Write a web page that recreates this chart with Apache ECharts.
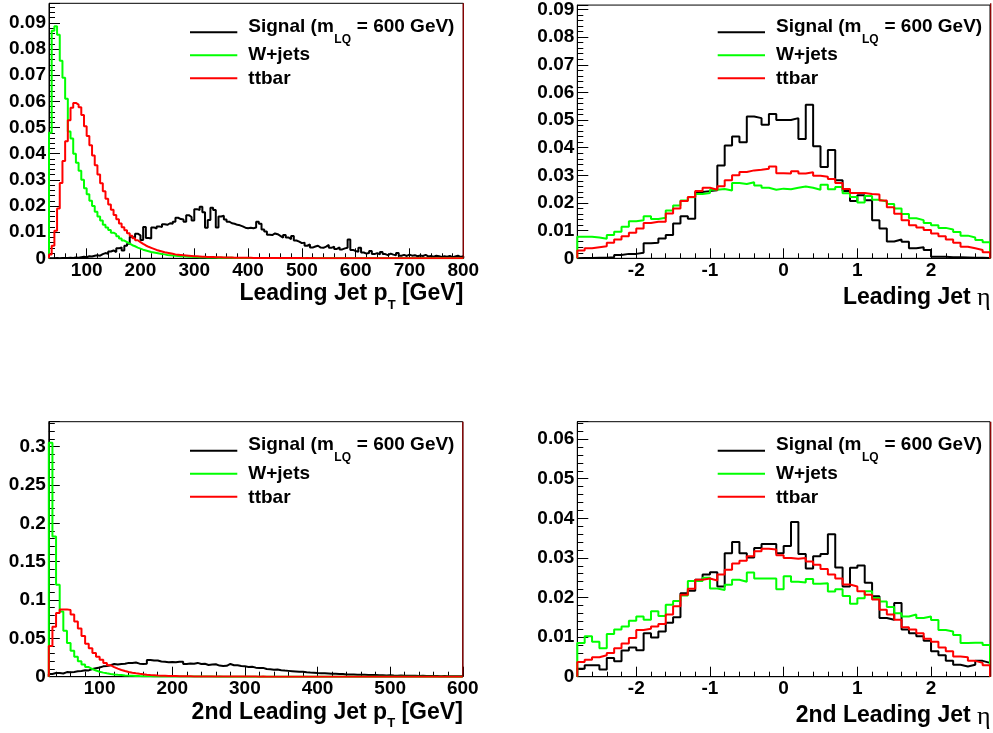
<!DOCTYPE html>
<html><head><meta charset="utf-8">
<script src="https://cdn.jsdelivr.net/npm/echarts@6/dist/echarts.min.js"></script>
<style>html,body{margin:0;padding:0;background:#fff}#c{width:993px;height:733px}</style>
</head><body><div id="c"></div>
<script>
// ---------------- DATA ----------------
// Leading jet pT : bins of 5 GeV from 30 to 800 GeV
const leadPtLow = 30, leadPtBin = 5;
const leadPtSignal = [
 0.0000,0.0000,0.0001,0.0000,0.0001,0.0001,0.0001,0.0002,0.0001,0.0003,
 0.0002,0.0004,0.0006,0.0004,0.0008,0.0007,0.0010,0.0012,0.0010,0.0016,
 0.0020,0.0017,0.0026,0.0030,0.0024,0.0038,0.0042,0.0030,0.0048,0.0056,
 0.0082,0.0078,0.0094,0.0088,0.0070,0.0120,0.0078,0.0076,0.0118,0.0114,
 0.0122,0.0120,0.0130,0.0128,0.0134,0.0132,0.0140,0.0155,0.0150,0.0148,
 0.0140,0.0165,0.0158,0.0145,0.0188,0.0185,0.0197,0.0176,0.0117,0.0146,
 0.0193,0.0185,0.0118,0.0160,0.0163,0.0148,0.0140,0.0134,0.0132,0.0128,
 0.0126,0.0122,0.0117,0.0115,0.0117,0.0115,0.0118,0.0140,0.0132,0.0110,
 0.0102,0.0090,0.0089,0.0095,0.0092,0.0086,0.0079,0.0089,0.0080,0.0073,
 0.0085,0.0068,0.0064,0.0058,0.0060,0.0048,0.0053,0.0041,0.0045,0.0048,
 0.0041,0.0040,0.0045,0.0051,0.0040,0.0045,0.0036,0.0042,0.0034,0.0038,
 0.0040,0.0072,0.0032,0.0028,0.0025,0.0040,0.0022,0.0018,0.0020,0.0028,
 0.0016,0.0020,0.0015,0.0024,0.0016,0.0012,0.0018,0.0014,0.0012,0.0020,
 0.0010,0.0013,0.0009,0.0014,0.0010,0.0012,0.0008,0.0011,0.0009,0.0013,
 0.0007,0.0009,0.0006,0.0010,0.0008,0.0005,0.0008,0.0006,0.0009,0.0004,
 0.0007,0.0010,0.0005,0.0008];
const leadPtWjets = [
 0.0480,0.0870,0.0887,0.0855,0.0755,0.0690,0.0610,0.0485,0.0458,0.0400,
 0.0365,0.0335,0.0300,0.0268,0.0245,0.0220,0.0200,0.0178,0.0160,0.0145,
 0.0128,0.0118,0.0108,0.0098,0.0092,0.0084,0.0076,0.0068,0.0062,0.0056,
 0.0050,0.0046,0.0041,0.0037,0.0033,0.0030,0.0027,0.0024,0.0022,0.0020,
 0.0018,0.0016,0.0015,0.0013,0.0012,0.0011,0.0010,0.0009,0.0008,0.0008,
 0.0007,0.0006,0.0006,0.0005,0.0005,0.0004,0.0004,0.0004,0.0003,0.0003,
 0.0003,0.0003,0.0002,0.0002,0.0002,0.0002,0.0002,0.0002,0.0001,0.0001,
 0.0001,0.0001,0.0001,0.0001,0.0001,0.0001,0.0001,0.0001,0.0001,0.0001,
 0.0001,0.0001,0.0001,0.0001,0.0001,0.0000,0.0001,0.0000,0.0001,0.0000,
 0.0000,0.0000,0.0000,0.0000,0.0000,0.0000,0.0000,0.0000,0.0000,0.0000,
 0.0000,0.0000,0.0000,0.0000,0.0000,0.0000,0.0000,0.0000,0.0000,0.0000,
 0.0000,0.0000,0.0000,0.0000,0.0000,0.0000,0.0000,0.0000,0.0000,0.0000,
 0.0000,0.0000,0.0000,0.0000,0.0000,0.0000,0.0000,0.0000,0.0000,0.0000,
 0.0000,0.0000,0.0000,0.0000,0.0000,0.0000,0.0000,0.0000,0.0000,0.0000,
 0.0000,0.0000,0.0000,0.0000,0.0000,0.0000,0.0000,0.0000,0.0000,0.0000,
 0.0000,0.0000,0.0000,0.0000];
const leadPtTtbar = [
 0.0015,0.0048,0.0105,0.0190,0.0288,0.0372,0.0448,0.0528,0.0576,0.0594,
 0.0588,0.0578,0.0548,0.0505,0.0468,0.0432,0.0393,0.0356,0.0320,0.0287,
 0.0256,0.0228,0.0206,0.0186,0.0166,0.0149,0.0133,0.0119,0.0107,0.0096,
 0.0086,0.0077,0.0069,0.0062,0.0055,0.0049,0.0044,0.0040,0.0036,0.0032,
 0.0029,0.0026,0.0023,0.0021,0.0019,0.0017,0.0015,0.0014,0.0013,0.0012,
 0.0011,0.0010,0.0009,0.0008,0.0008,0.0007,0.0006,0.0006,0.0005,0.0005,
 0.0005,0.0004,0.0004,0.0004,0.0003,0.0003,0.0003,0.0003,0.0002,0.0002,
 0.0002,0.0002,0.0002,0.0002,0.0002,0.0001,0.0001,0.0001,0.0001,0.0001,
 0.0001,0.0001,0.0001,0.0001,0.0001,0.0001,0.0001,0.0001,0.0001,0.0001,
 0.0001,0.0001,0.0001,0.0001,0.0000,0.0001,0.0000,0.0001,0.0000,0.0000,
 0.0000,0.0000,0.0000,0.0000,0.0000,0.0000,0.0000,0.0000,0.0000,0.0000,
 0.0000,0.0000,0.0000,0.0000,0.0000,0.0000,0.0000,0.0000,0.0000,0.0000,
 0.0000,0.0000,0.0000,0.0000,0.0000,0.0000,0.0000,0.0000,0.0000,0.0000,
 0.0000,0.0000,0.0000,0.0000,0.0000,0.0000,0.0000,0.0000,0.0000,0.0000,
 0.0000,0.0000,0.0000,0.0000,0.0000,0.0000,0.0000,0.0000,0.0000,0.0000,
 0.0000,0.0000,0.0000,0.0000];

// 2nd leading jet pT : bins of 5 GeV from 30 to 600 GeV
const sublPtLow = 30, sublPtBin = 5;
const sublPtSignal = [
 0.0035,0.0048,0.0048,0.0042,0.0060,0.0058,0.0062,0.0070,0.0075,0.0085,
 0.0082,0.0100,0.0110,0.0120,0.0135,0.0140,0.0150,0.0165,0.0158,0.0165,
 0.0168,0.0180,0.0180,0.0185,0.0170,0.0166,0.0170,0.0218,0.0210,0.0212,
 0.0198,0.0196,0.0190,0.0192,0.0188,0.0196,0.0196,0.0166,0.0172,0.0170,
 0.0180,0.0166,0.0168,0.0153,0.0158,0.0162,0.0145,0.0140,0.0142,0.0166,
 0.0150,0.0148,0.0140,0.0135,0.0128,0.0130,0.0118,0.0112,0.0115,0.0100,
 0.0098,0.0092,0.0094,0.0085,0.0080,0.0076,0.0072,0.0068,0.0064,0.0066,
 0.0058,0.0054,0.0052,0.0048,0.0045,0.0044,0.0042,0.0038,0.0037,0.0034,
 0.0035,0.0030,0.0028,0.0029,0.0026,0.0025,0.0024,0.0022,0.0021,0.0022,
 0.0019,0.0018,0.0017,0.0018,0.0015,0.0014,0.0015,0.0013,0.0013,0.0012,
 0.0012,0.0010,0.0011,0.0009,0.0010,0.0008,0.0009,0.0007,0.0008,0.0007,
 0.0006,0.0007,0.0005,0.0006];
const sublPtWjets = [
 0.3050,0.1830,0.1200,0.0850,0.0600,0.0440,0.0340,0.0260,0.0200,0.0160,
 0.0125,0.0100,0.0080,0.0065,0.0053,0.0044,0.0036,0.0030,0.0025,0.0021,
 0.0017,0.0014,0.0012,0.0010,0.0008,0.0007,0.0006,0.0005,0.0004,0.0004,
 0.0003,0.0003,0.0002,0.0002,0.0002,0.0002,0.0001,0.0001,0.0001,0.0001,
 0.0001,0.0001,0.0001,0.0001,0.0001,0.0000,0.0001,0.0000,0.0000,0.0000,
 0.0000,0.0000,0.0000,0.0000,0.0000,0.0000,0.0000,0.0000,0.0000,0.0000,
 0.0000,0.0000,0.0000,0.0000,0.0000,0.0000,0.0000,0.0000,0.0000,0.0000,
 0.0000,0.0000,0.0000,0.0000,0.0000,0.0000,0.0000,0.0000,0.0000,0.0000,
 0.0000,0.0000,0.0000,0.0000,0.0000,0.0000,0.0000,0.0000,0.0000,0.0000,
 0.0000,0.0000,0.0000,0.0000,0.0000,0.0000,0.0000,0.0000,0.0000,0.0000,
 0.0000,0.0000,0.0000,0.0000,0.0000,0.0000,0.0000,0.0000,0.0000,0.0000,
 0.0000,0.0000,0.0000,0.0000];
const sublPtTtbar = [
 0.0400,0.0650,0.0830,0.0875,0.0878,0.0870,0.0810,0.0720,0.0630,0.0530,
 0.0430,0.0370,0.0310,0.0260,0.0220,0.0180,0.0150,0.0125,0.0105,0.0088,
 0.0074,0.0062,0.0052,0.0044,0.0037,0.0031,0.0026,0.0022,0.0019,0.0016,
 0.0014,0.0012,0.0010,0.0009,0.0008,0.0007,0.0006,0.0005,0.0005,0.0004,
 0.0004,0.0003,0.0003,0.0003,0.0002,0.0002,0.0002,0.0002,0.0001,0.0001,
 0.0001,0.0001,0.0001,0.0001,0.0001,0.0001,0.0001,0.0000,0.0001,0.0000,
 0.0000,0.0000,0.0000,0.0000,0.0000,0.0000,0.0000,0.0000,0.0000,0.0000,
 0.0000,0.0000,0.0000,0.0000,0.0000,0.0000,0.0000,0.0000,0.0000,0.0000,
 0.0000,0.0000,0.0000,0.0000,0.0000,0.0000,0.0000,0.0000,0.0000,0.0000,
 0.0000,0.0000,0.0000,0.0000,0.0000,0.0000,0.0000,0.0000,0.0000,0.0000,
 0.0000,0.0000,0.0000,0.0000,0.0000,0.0000,0.0000,0.0000,0.0000,0.0000,
 0.0000,0.0000,0.0000,0.0000];

// Jet eta : bins of 0.1 from -2.8 to 2.8
const etaLow = -2.8, etaBin = 0.1;
const leadEtaSignal = [
 0.0001,0.0001,0.0002,0.0002,0.0004,0.0012,0.0016,0.0016,0.0020,0.0054,0.0056,0.0072,0.0084,0.0126,
 0.0152,0.0143,0.0240,0.0243,0.0246,0.0336,0.0408,0.0441,0.0420,0.0513,0.0507,0.0483,0.0522,0.0500,
 0.0500,0.0507,0.0432,0.0555,0.0405,0.0330,0.0392,0.0282,0.0243,0.0207,0.0228,0.0210,0.0138,0.0108,
 0.0061,0.0068,0.0060,0.0036,0.0040,0.0030,0.0006,0.0006,0.0004,0.0004,0.0003,0.0002,0.0002,0.0001];
const leadEtaWjets = [
 0.0078,0.0078,0.0075,0.0071,0.0084,0.0096,0.0114,0.0134,0.0138,0.0152,0.0142,0.0147,0.0173,0.0191,
 0.0209,0.0221,0.0233,0.0236,0.0248,0.0251,0.0245,0.0272,0.0269,0.0275,0.0263,0.0255,0.0248,0.0252,
 0.0250,0.0255,0.0260,0.0255,0.0248,0.0266,0.0250,0.0258,0.0235,0.0222,0.0202,0.0225,0.0212,0.0205,
 0.0196,0.0180,0.0160,0.0145,0.0138,0.0128,0.0120,0.0110,0.0104,0.0095,0.0082,0.0075,0.0066,0.0058];
const leadEtaTtbar = [
 0.0028,0.0036,0.0040,0.0044,0.0056,0.0068,0.0080,0.0092,0.0108,0.0128,0.0132,0.0132,0.0162,0.0180,
 0.0207,0.0222,0.0243,0.0255,0.0248,0.0261,0.0282,0.0300,0.0312,0.0318,0.0320,0.0324,0.0332,0.0308,
 0.0307,0.0315,0.0307,0.0311,0.0299,0.0295,0.0287,0.0272,0.0251,0.0236,0.0236,0.0233,0.0231,0.0209,
 0.0185,0.0161,0.0138,0.0120,0.0111,0.0102,0.0090,0.0080,0.0068,0.0056,0.0042,0.0036,0.0030,0.0022];
const sublEtaSignal = [
 0.0020,0.0029,0.0029,0.0018,0.0047,0.0039,0.0066,0.0074,0.0067,0.0110,0.0099,0.0114,0.0136,0.0150,
 0.0211,0.0217,0.0245,0.0258,0.0264,0.0228,0.0312,0.0340,0.0312,0.0301,0.0325,0.0335,0.0335,0.0312,
 0.0330,0.0391,0.0310,0.0273,0.0304,0.0310,0.0360,0.0276,0.0228,0.0275,0.0281,0.0237,0.0203,0.0148,
 0.0144,0.0186,0.0119,0.0110,0.0102,0.0091,0.0064,0.0054,0.0040,0.0030,0.0026,0.0030,0.0040,0.0035];
const sublEtaWjets = [
 0.0085,0.0102,0.0088,0.0072,0.0108,0.0119,0.0127,0.0141,0.0152,0.0144,0.0165,0.0153,0.0182,0.0191,
 0.0205,0.0242,0.0242,0.0250,0.0223,0.0219,0.0232,0.0245,0.0240,0.0263,0.0248,0.0248,0.0248,0.0221,
 0.0254,0.0240,0.0238,0.0247,0.0235,0.0236,0.0215,0.0221,0.0204,0.0184,0.0198,0.0216,0.0199,0.0190,
 0.0176,0.0160,0.0152,0.0157,0.0148,0.0152,0.0143,0.0118,0.0114,0.0105,0.0085,0.0086,0.0086,0.0080];
const sublEtaTtbar = [
 0.0037,0.0043,0.0049,0.0054,0.0060,0.0072,0.0084,0.0098,0.0118,0.0121,0.0127,0.0133,0.0157,0.0178,
 0.0207,0.0222,0.0245,0.0248,0.0243,0.0258,0.0270,0.0286,0.0293,0.0304,0.0317,0.0323,0.0321,0.0307,
 0.0300,0.0298,0.0300,0.0291,0.0283,0.0272,0.0258,0.0248,0.0233,0.0228,0.0216,0.0207,0.0195,0.0169,
 0.0157,0.0144,0.0125,0.0119,0.0110,0.0096,0.0088,0.0074,0.0064,0.0051,0.0049,0.0040,0.0035,0.0029];

const legendNames = ['Signal (m', 'LQ', ' = 600 GeV)', 'W+jets', 'ttbar'];
const axisTitles = [
  ['Leading Jet p', 'T', ' [GeV]'],
  ['Leading Jet ', '\u03b7', ''],
  ['2nd Leading Jet p', 'T', ' [GeV]'],
  ['2nd Leading Jet ', '\u03b7', '']
];

// ---------------- LAYOUT / STYLE ----------------
const COLORS = ['#000000', '#00ff00', '#ff0000'];
const FRAME_RIGHT = '#8c0000';
const SANS = '"Liberation Sans", Arial, Helvetica, sans-serif';
const SERIF = '"Liberation Serif", "DejaVu Serif", serif';

const panels = [
  {grid:{left:49, top:3.3, width:414.3, height:255}, xmin:30, xmax:800, xsplit:8, xstep:100, ymax:0.0975, yint:0.01,
   low:leadPtLow, bw:leadPtBin, hists:[leadPtSignal, leadPtWjets, leadPtTtbar]},
  {grid:{left:577.3, top:3.3, width:413.4, height:255}, xmin:-2.8, xmax:2.8, xsplit:5, xstep:1, ymax:0.0916, yint:0.01,
   low:etaLow, bw:etaBin, hists:[leadEtaSignal, leadEtaWjets, leadEtaTtbar]},
  {grid:{left:48.8, top:421.7, width:414, height:255}, xmin:30, xmax:600, xsplit:6, xstep:100, ymax:0.3326, yint:0.05,
   low:sublPtLow, bw:sublPtBin, hists:[sublPtSignal, sublPtWjets, sublPtTtbar]},
  {grid:{left:577.3, top:421.7, width:413.4, height:255}, xmin:-2.8, xmax:2.8, xsplit:5, xstep:1, ymax:0.0644, yint:0.01,
   low:etaLow, bw:etaBin, hists:[sublEtaSignal, sublEtaWjets, sublEtaTtbar]}
];

function stepData(lo, w, vals) {
  const pts = [[lo, 0]];
  vals.forEach((v, i) => {
    pts.push([+(lo + i * w).toFixed(6), v]);
    pts.push([+(lo + (i + 1) * w).toFixed(6), v]);
  });
  pts.push([+(lo + vals.length * w).toFixed(6), 0]);
  return pts;
}

const mctx = document.createElement('canvas').getContext('2d');
function tw(text, size, weight, family) {
  mctx.font = (weight || 'bold') + ' ' + size + 'px ' + (family || SANS);
  return mctx.measureText(text).width;
}
function txt(text, x, y, size, weight, family, align) {
  return {type:'text', x:x, y:y, silent:true, z:100,
    style:{text:text, fill:'#000', fontSize:size, fontWeight:weight||'bold', fontFamily:family||SANS,
      align:align||'left', verticalAlign:'middle'}};
}

const grids = [], xAxes = [], yAxes = [], series = [], graphics = [];
panels.forEach((p, i) => {
  grids.push(Object.assign({show:true, borderColor:'#000', borderWidth:1, backgroundColor:'transparent', containLabel:false}, p.grid));
  const lab = {fontFamily:SANS, fontWeight:'bold', fontSize:19, color:'#000'};
  xAxes.push({type:'value', gridIndex:i, min:p.xmin, max:p.xmax, splitNumber:p.xsplit,
    axisLine:{show:true, onZero:false, lineStyle:{color:'#000', width:1}},
    axisTick:{show:true, inside:true, length:10, lineStyle:{color:'#000', width:1}},
    minorTick:{show:true, splitNumber:5, length:5, lineStyle:{color:'#000', width:1}},
    splitLine:{show:false}, minorSplitLine:{show:false},
    axisLabel:Object.assign({margin:3, showMinLabel:true, showMaxLabel:true, hideOverlap:false,
      formatter:(v) => { const r = Math.round(v / p.xstep) * p.xstep; return Math.abs(v - r) < 1e-7 ? String(+r.toFixed(4)) : ''; }}, lab)});
  yAxes.push({type:'value', gridIndex:i, min:0, max:p.ymax, interval:p.yint,
    axisLine:{show:true, onZero:false, lineStyle:{color:'#000', width:1}},
    axisTick:{show:true, inside:true, length:11, lineStyle:{color:'#000', width:1}},
    minorTick:{show:true, splitNumber:5, length:6, lineStyle:{color:'#000', width:1}},
    splitLine:{show:false}, minorSplitLine:{show:false},
    axisLabel:Object.assign({margin:3, showMinLabel:true, showMaxLabel:true, hideOverlap:false,
      formatter:(v) => { const r = Math.round(v / p.yint) * p.yint; return Math.abs(v - r) < 1e-9 ? String(+r.toFixed(4)) : ''; }}, lab)});
  p.hists.forEach((h, k) => {
    series.push({type:'line', xAxisIndex:i, yAxisIndex:i, data:stepData(p.low, p.bw, h),
      symbol:'none', showSymbol:false, silent:true, animation:false, clip:true, z:2 + k,
      lineStyle:{color:COLORS[k], width:2}, itemStyle:{color:COLORS[k]}});
  });

  const right = p.grid.left + p.grid.width;
  const base = p.grid.top + p.grid.height;
  // right frame edge (drawn dark red in the original)
  graphics.push({type:'line', silent:true, z:90, shape:{x1:right, y1:p.grid.top, x2:right, y2:base},
    style:{stroke:FRAME_RIGHT, lineWidth:1.3}});

  // legend
  const dy = i >= 2 ? 418.4 : 0;
  const lx0 = i % 2 === 0 ? 190 : 717.7;
  const tx0 = i % 2 === 0 ? 248.3 : 776;
  const rowsY = [32.3, 55.3, 78.3];
  rowsY.forEach((yy, k) => {
    graphics.push({type:'line', silent:true, z:100, shape:{x1:lx0, y1:yy + dy, x2:lx0 + 47.3, y2:yy + dy},
      style:{stroke:COLORS[k], lineWidth:2}});
  });
  const w1 = tw(legendNames[0], 19);
  const w2 = tw(legendNames[1], 12);
  graphics.push(txt(legendNames[0], tx0, 26.6 + dy, 19));
  graphics.push(txt(legendNames[1], tx0 + w1 + 0.5, 39.4 + dy, 12));
  graphics.push(txt(legendNames[2], tx0 + w1 + w2 + 1, 26.6 + dy, 19));
  graphics.push(txt(legendNames[3], tx0, 55.0 + dy, 19));
  graphics.push(txt(legendNames[4], tx0, 79.0 + dy, 19));

  // axis title (right aligned to frame right edge)
  const t = axisTitles[i];
  const isEta = i % 2 === 1;
  const cy = base + (isEta ? 39.2 : 35.5);
  if (isEta) {
    const we = tw(t[1], 26, 'normal', SERIF);
    graphics.push(txt(t[1], right - we, cy + 1, 26, 'normal', SERIF));
    graphics.push(txt(t[0], right - we, cy, 23, 'bold', SANS, 'right'));
  } else {
    const wr = tw(t[2], 23), ws = tw(t[1], 13);
    graphics.push(txt(t[2], right - wr, cy, 23));
    graphics.push(txt(t[1], right - wr - ws, cy + 11.7, 13));
    graphics.push(txt(t[0], right - wr - ws, cy, 23, 'bold', SANS, 'right'));
  }
});

const chart = echarts.init(document.getElementById('c'), null, {renderer:'canvas', width:993, height:733});
chart.setOption({
  animation:false,
  backgroundColor:'#ffffff',
  grid:grids, xAxis:xAxes, yAxis:yAxes, series:series, graphic:graphics
});
</script>
</body></html>
